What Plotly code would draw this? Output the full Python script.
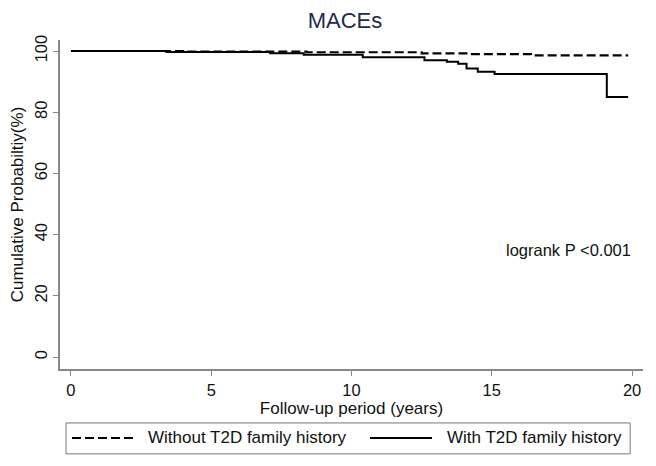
import plotly.graph_objects as go

# Kaplan-Meier style step data
years_without = [0, 4.0, 8.4, 12.5, 14.2, 16.4, 19.86]
prob_without = [100, 99.8, 99.6, 99.2, 99.0, 98.6, 98.6]

years_with = [0, 3.4, 7.1, 8.3, 10.4, 12.6, 13.4, 13.8, 14.1, 14.5, 15.1, 19.1, 19.86]
prob_with = [100, 99.7, 99.3, 98.8, 98.0, 97.0, 96.5, 95.8, 94.3, 93.2, 92.5, 85.0, 85.0]

group_names = ["Without T2D family history", "With T2D family history"]

x_ticks = [0, 5, 10, 15, 20]
y_ticks = [0, 20, 40, 60, 80, 100]

FONT = "Arial, Liberation Sans, sans-serif"
DASH = "9px,4px"

fig = go.Figure()
fig.add_trace(go.Scatter(x=years_without, y=prob_without, mode="lines", line_shape="hv",
                         name=group_names[0], showlegend=False,
                         line=dict(color="black", width=2.2, dash=DASH)))
fig.add_trace(go.Scatter(x=years_with, y=prob_with, mode="lines", line_shape="hv",
                         name=group_names[1], showlegend=False,
                         line=dict(color="black", width=2)))

fig.add_annotation(x=17.75, y=35, xref="x", yref="y", text="logrank P <0.001", showarrow=False,
                   font=dict(family=FONT, size=16.5, color="#111"))

# legend drawn by hand (Stata style: long line samples inside a frame under the axis)
leg_y = -0.2097
fig.add_shape(type="rect", xref="paper", yref="paper", x0=0.0103, x1=0.978, y0=-0.258, y1=-0.164,
              line=dict(color="#777", width=1), fillcolor="rgba(0,0,0,0)")
fig.add_shape(type="line", xref="paper", yref="paper", x0=0.0206, x1=0.1286, y0=leg_y, y1=leg_y,
              line=dict(color="black", width=2, dash=DASH))
fig.add_shape(type="line", xref="paper", yref="paper", x0=0.5317, x1=0.6381, y0=leg_y, y1=leg_y,
              line=dict(color="black", width=2))
for xpos, name in zip([0.1475, 0.6604], group_names):
    fig.add_annotation(x=xpos, y=leg_y, xref="paper", yref="paper", text=name, showarrow=False,
                       xanchor="left", yanchor="middle", font=dict(family=FONT, size=17, color="#111"))

# the page body adds an 8px margin, so the figure is 8px smaller than the window
fig.update_layout(
    width=648, height=458,
    margin=dict(l=52, r=13, t=32, b=97, autoexpand=False),
    paper_bgcolor="white", plot_bgcolor="white",
    font=dict(family=FONT, color="#111"),
    title=dict(text="MACEs", x=0.52, xanchor="center", y=0.974, yanchor="middle",
               font=dict(family=FONT, size=22, color="#1c2b4a")),
    showlegend=False,
)
fig.update_xaxes(range=[-0.39, 20.39], tickvals=x_ticks, showline=True, linecolor="#888",
                 linewidth=1.5, ticks="outside", ticklen=5, tickcolor="#888", showgrid=False,
                 zeroline=False, tickfont=dict(size=16.5), automargin=False,
                 title=dict(text="Follow-up period (years)", font=dict(size=17), standoff=1))
fig.update_yaxes(range=[-3.9, 103.6], tickvals=y_ticks, showline=True, linecolor="#888",
                 linewidth=1.5, ticks="outside", ticklen=5, tickcolor="#888", showgrid=False,
                 zeroline=False, tickangle=-90, tickfont=dict(size=16.5), automargin=False,
                 title=dict(text="Cumulative Probabiltiy(%)", font=dict(size=17), standoff=15))

fig.write_html("out.html")
